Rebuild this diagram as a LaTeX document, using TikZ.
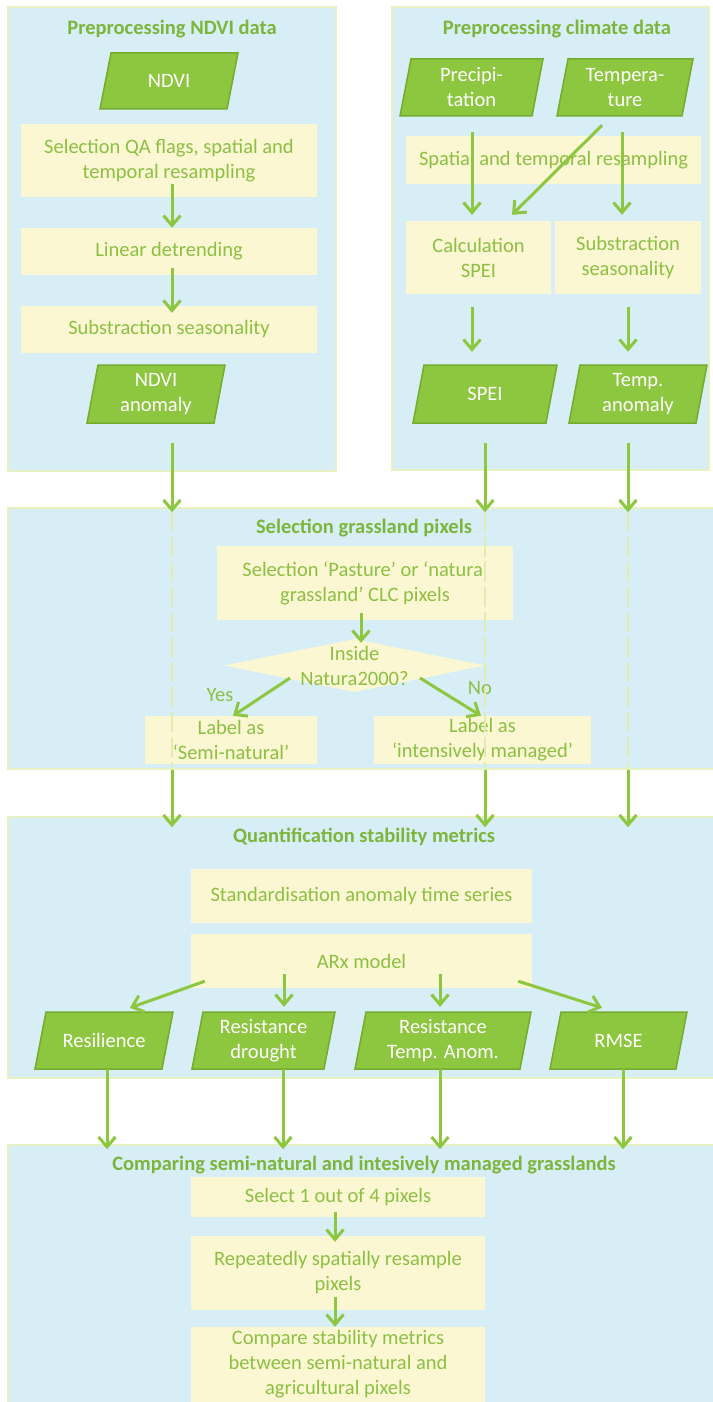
\documentclass[tikz,border=0pt]{standalone}
\usepackage{fontspec}
\setmainfont{Carlito}
\usetikzlibrary{shapes.geometric,arrows.meta,calc}

\definecolor{panelblue}{HTML}{D7EEF6}
\definecolor{panelline}{HTML}{E8F1C2}
\definecolor{boxyellow}{HTML}{FBF7D2}
\definecolor{txtgreen}{HTML}{8CC043}
\definecolor{titlegreen}{HTML}{7DB53A}
\definecolor{paragreen}{HTML}{8DC63F}
\definecolor{paraline}{HTML}{74AC2E}
\definecolor{arrowgreen}{HTML}{8DC63F}
\definecolor{dashpale}{HTML}{E2ECB0}

\newcommand\flowfont{\fontsize{20.5}{25}\selectfont}

% data item: slanted parallelogram with a named text node on top
% #1 name, #2 x, #3 y, #4 outer width, #5 height, #6 text
\newcommand\datanode[6]{%
  \filldraw[datashape]
    ($(#2,#3)+(-#4/2+11,-#5/2)$) -- ($(#2,#3)+(#4/2,-#5/2)$) --
    ($(#2,#3)+(#4/2-11,#5/2)$) -- ($(#2,#3)+(-#4/2,#5/2)$) -- cycle;
  \node[datatext, minimum width=#4-11, minimum height=#5] (#1) at (#2,#3) {#6};}

\begin{document}
\begin{tikzpicture}[x=1pt,y=-1pt,
  panel/.style={rectangle, fill=panelblue, draw=panelline, line width=1.5pt, inner sep=0pt},
  stepbox/.style={rectangle, fill=boxyellow, text=txtgreen, align=center, inner sep=0pt, font=\flowfont},
  datashape/.style={fill=paragreen, draw=paraline, line width=1.5pt, line join=miter},
  datatext/.style={rectangle, text=white, align=center, inner sep=0pt, font=\flowfont},
  decision/.style={diamond, fill=boxyellow, inner sep=0pt},
  title/.style={text=titlegreen, font=\flowfont\bfseries},
  lbl/.style={text=txtgreen, align=center, inner sep=0pt, font=\flowfont},
  flow/.style={draw=arrowgreen, line width=3pt, -{Straight Barb[length=10pt,width=17pt]}},
  ghost/.style={draw=dashpale, line width=2pt, dash pattern=on 20pt off 5pt}]

\useasboundingbox[fill=white] (0,0) rectangle (712,1402);

% ---------- panels ----------
\node[panel, minimum width=328, minimum height=464] (p1) at (172,239) {};
\node[panel, minimum width=317, minimum height=463] (p2) at (550.5,238.5) {};
\node[panel, minimum width=706, minimum height=261] (p3) at (361,638.5) {};
\node[panel, minimum width=706, minimum height=261] (p4) at (361,947.5) {};
\node[panel, minimum width=706, minimum height=265] (p5) at (361,1277.5) {};

\node[title] (t1) at (172,29) {Preprocessing NDVI data};
\node[title] (t2) at (557,29) {Preprocessing climate data};
\node[title] (t3) at (364,528) {Selection grassland pixels};
\node[title] (t4) at (364,837) {Quantification stability metrics};
\node[title] (t5) at (364,1165) {Comparing semi-natural and intesively managed grasslands};

% ---------- NDVI preprocessing ----------
\datanode{ndvi}{169}{81}{138}{56}{NDVI}
\node[stepbox, minimum width=296, minimum height=73] (qa) at (169,160.5)
  {Selection QA flags, spatial and\\temporal resampling};
\node[stepbox, minimum width=296, minimum height=47] (lin) at (169,251.5) {Linear detrending};
\node[stepbox, minimum width=296, minimum height=47] (sub1) at (169,329.5) {Substraction seasonality};
\datanode{ndvia}{156}{394}{138}{58}{NDVI\\anomaly}

% ---------- climate preprocessing ----------
\datanode{prec}{471.5}{87.5}{143}{57}{Precipi-\\tation}
\datanode{temp}{625}{87.5}{136}{57}{Tempera-\\ture}
\node[stepbox, minimum width=295, minimum height=48] (res) at (553.5,160) {Spatial and temporal resampling};
\node[stepbox, minimum width=145, minimum height=73] (spei) at (478.5,257.5) {Calculation\\SPEI};
\node[stepbox, minimum width=146, minimum height=73] (sub2) at (628,257.5) {Substraction\\seasonality};
\datanode{speio}{485}{394}{144}{58}{SPEI}
\datanode{tempa}{638}{394}{138}{58}{Temp.\\anomaly}

% ---------- grassland selection ----------
\node[stepbox, minimum width=296, minimum height=74] (past) at (365,583)
  {Selection ‘Pasture’ or ‘natural\\grassland’ CLC pixels};
\node[decision, minimum width=261, minimum height=53] (dec) at (354.5,665.5) {};
\node[lbl] (dect) at (dec) {Inside\\Natura2000?};
\node[stepbox, minimum width=172, minimum height=48] (semi) at (231,740) {Label as\\‘Semi-natural’};
\node[stepbox, minimum width=217, minimum height=48] (intens) at (482.5,740) {Label as\\‘intensively managed’};
\node[lbl] (yes) at (220,695) {Yes};
\node[lbl] (no) at (480,688) {No};

% ---------- stability metrics ----------
\node[stepbox, minimum width=341, minimum height=54] (std) at (361.5,896) {Standardisation anomaly time series};
\node[stepbox, minimum width=341, minimum height=54] (arx) at (361.5,961) {ARx model};
\datanode{resil}{104}{1040.5}{138}{57}{Resilience}
\datanode{resd}{263.5}{1040.5}{143}{57}{Resistance\\drought}
\datanode{rest}{443}{1040.5}{176}{57}{Resistance\\Temp. Anom.}
\datanode{rmse}{618.5}{1040.5}{137}{57}{RMSE}

% ---------- comparison ----------
\node[stepbox, minimum width=294, minimum height=40] (sel4) at (338,1197) {Select 1 out of 4 pixels};
\node[stepbox, minimum width=294, minimum height=74] (rep) at (338,1273) {Repeatedly spatially resample\\pixels};
\node[stepbox, minimum width=294, minimum height=75] (comp) at (338,1364.5)
  {Compare stability metrics\\between semi-natural and\\agricultural pixels};

% ---------- long data streams through the grassland panel ----------
\coordinate (ca) at ($(ndvia.south)+(16,20)$);
\coordinate (cb) at ($(speio.south)+(0,20)$);
\coordinate (cc) at ($(tempa.south)+(-10,20)$);
\foreach \c in {ca,cb,cc}{
  \draw[ghost] ($(\c |- p3.north)+(0,5)$) -- (\c |- p3.south);
  \draw[flow] (\c) -- ($(\c |- p3.north)+(0,5)$);
  \draw[flow] (\c |- p3.south) -- ($(\c |- p4.north)+(0,11)$);
}

% ---------- connectors ----------
\draw[flow] ($(qa.south)+(3,-13)$) -- ($(lin.north)+(3,0)$);
\draw[flow] ($(lin.south)+(3,-7)$) -- ($(sub1.north)+(3,7)$);

\draw[flow] ($(prec.south)+(0.5,16)$) -- ($(spei.north)+(-6.5,-6)$);
\draw[flow] ($(temp.south)+(-23,9)$) -- ($(spei.north)+(33.5,-6)$);
\draw[flow] ($(temp.south)+(-3,16)$) -- ($(sub2.north)+(-6,-6)$);
\draw[flow] ($(spei.south)+(-6.5,13)$) -- ($(speio.north)+(-13,-13)$);
\draw[flow] ($(sub2.south)+(0,13)$) -- ($(tempa.north)+(-10,-13)$);

\draw[flow] ($(past.south)+(-4,-7)$) -- ($(dec.north)+(6.5,4)$);
\draw[flow] ($(dec.center)+(-64.5,12.5)$) -- ($(semi.north)+(2,0)$);
\draw[flow] ($(dec.center)+(65.5,12.5)$) -- ($(intens.north)+(-1.5,0)$);

\draw[flow] ($(arx.south west)+(14,-7)$) -- ($(resil.north)+(26,-4)$);
\draw[flow] ($(arx.south)+(-77.5,-14)$) -- ($(resd.north)+(20.5,-5)$);
\draw[flow] ($(arx.south)+(78.5,-14)$) -- ($(rest.north)+(-3,-5)$);
\draw[flow] ($(arx.south east)+(-14,-7)$) -- ($(rmse.north)+(-16.5,-4)$);

\draw[flow] ($(resil.south)+(3,0)$) -- ($(resil.south |- p5.north)+(3,5)$);
\draw[flow] ($(resd.south)+(19.5,0)$) -- ($(resd.south |- p5.north)+(19.5,5)$);
\draw[flow] ($(rest.south)+(-3,0)$) -- ($(rest.south |- p5.north)+(-3,5)$);
\draw[flow] ($(rmse.south)+(4.5,0)$) -- ($(rmse.south |- p5.north)+(4.5,5)$);

\draw[flow] ($(sel4.south)+(-3,-5)$) -- ($(rep.north)+(-3,6)$);
\draw[flow] ($(rep.south)+(-3,-13)$) -- ($(comp.north)+(-3,0)$);

\end{tikzpicture}
\end{document}
